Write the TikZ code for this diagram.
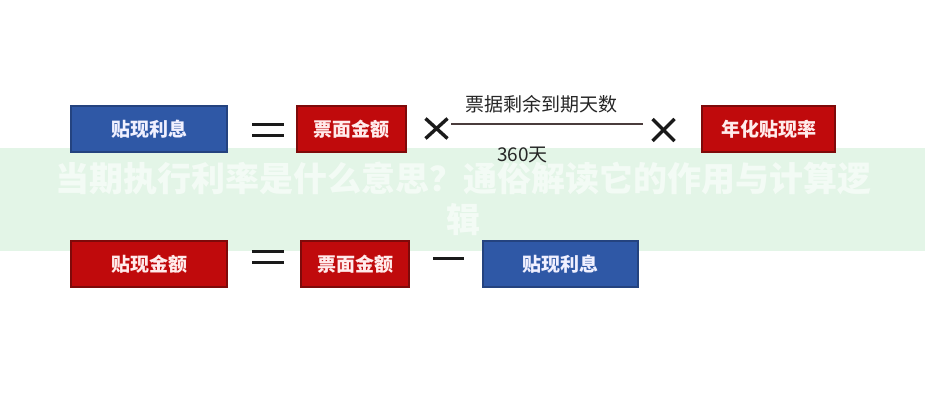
\documentclass[tikz,border=0pt]{standalone}
\usepackage{fontspec}
\newfontfamily\cjk{Noto Sans CJK SC}
\definecolor{boxred}{HTML}{C00A0C}
\definecolor{boxredline}{HTML}{7E0A0A}
\definecolor{boxblue}{HTML}{2F58A6}
\definecolor{boxblueline}{HTML}{24437F}
\definecolor{band}{HTML}{E3F5E7}
\definecolor{optext}{HTML}{1A1A1A}
\definecolor{fracline}{HTML}{4A3C3C}
\tikzset{
  termbox/.style={draw, line width=1.2pt, minimum height=46pt, inner sep=0pt,
    font=\cjk\bfseries\fontsize{19}{22}\selectfont},
  redterm/.style={termbox, fill=boxred, draw=boxredline, text=red!8!white},
  blueterm/.style={termbox, fill=boxblue, draw=boxblueline, text=blue!6!white},
  opline/.style={line width=3pt, draw=optext},
  fractext/.style={font=\cjk\fontsize{19}{22}\selectfont, text=black!85, inner sep=0pt}
}
\begin{document}
\begin{tikzpicture}[x=1pt,y=-1pt]
\useasboundingbox (0,0) rectangle (925,400);
\fill[white] (0,0) rectangle (925,400);
% watermark band
\fill[band] (0,148) rectangle (925,251);
\node[font=\cjk\bfseries\fontsize{34}{41}\selectfont, text=white, text opacity=0.6,
  align=center, inner sep=0pt] (wm) at (463,199)
  {当期执行利率是什么意思？通俗解读它的作用与计算逻\\辑};

% top row
\node[blueterm, minimum width=156pt] (tx) at (149,129) {贴现利息};
\node[redterm, minimum width=109pt] (fa) at (351.5,129) {票面金额};
\node[redterm, minimum width=133pt] (rate) at (768.5,129) {年化贴现率};

% equals (top)
\coordinate (eqA) at (268,129.5);
\draw[opline] ([xshift=-16pt,yshift=-5.5pt]eqA) -- ([xshift=16pt,yshift=-5.5pt]eqA);
\draw[opline] ([xshift=-16pt,yshift=5.5pt]eqA) -- ([xshift=16pt,yshift=5.5pt]eqA);

% times 1
\coordinate (mulA) at (436.5,128.5);
\draw[opline, line width=3.4pt] ([xshift=-11pt,yshift=-10pt]mulA) -- ([xshift=11pt,yshift=10pt]mulA);
\draw[opline, line width=3.4pt] ([xshift=-11pt,yshift=10pt]mulA) -- ([xshift=11pt,yshift=-10pt]mulA);

% fraction
\coordinate (fl) at (451,124);
\coordinate (fr) at (643,124);
\draw[line width=1.5pt, draw=fracline] (fl) -- (fr);
\node[fractext] (num) at (541,104) {票据剩余到期天数};
\node[fractext] (den) at (522.5,155) {360天};

% times 2
\coordinate (mulB) at (663.5,130);
\draw[opline, line width=3.4pt] ([xshift=-11pt,yshift=-11pt]mulB) -- ([xshift=11pt,yshift=11pt]mulB);
\draw[opline, line width=3.4pt] ([xshift=-11pt,yshift=11pt]mulB) -- ([xshift=11pt,yshift=-11pt]mulB);

% bottom row
\node[redterm, minimum width=156pt] (dm) at (149,264) {贴现金额};
\node[redterm, minimum width=108pt] (fb) at (355,264) {票面金额};
\node[blueterm, minimum width=155pt] (tb) at (560.5,264) {贴现利息};

% equals (bottom)
\coordinate (eqB) at (268,257);
\draw[opline, line width=2.6pt] ([xshift=-16pt,yshift=-5.5pt]eqB) -- ([xshift=16pt,yshift=-5.5pt]eqB);
\draw[opline, line width=2.6pt] ([xshift=-16pt,yshift=5.5pt]eqB) -- ([xshift=16pt,yshift=5.5pt]eqB);

% minus
\coordinate (mn) at (448.5,258.5);
\draw[opline, line width=2.6pt] ([xshift=-15.5pt]mn) -- ([xshift=15.5pt]mn);
\end{tikzpicture}
\end{document}
